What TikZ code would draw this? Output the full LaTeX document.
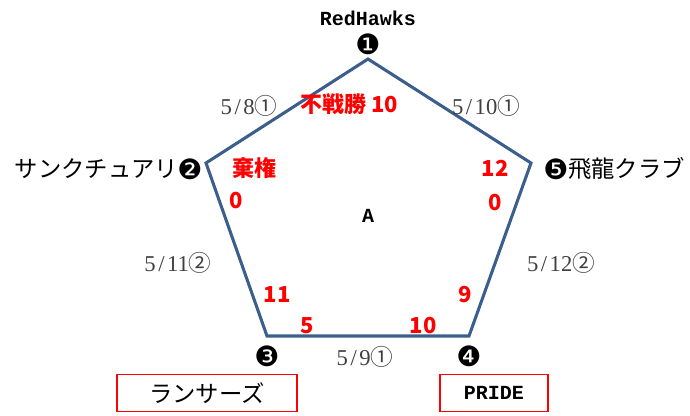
\documentclass[tikz,border=0pt]{standalone}
\usepackage{fontspec}
\setmainfont{Liberation Serif}
\newfontfamily\jpfont{Noto Sans CJK JP}
\newfontfamily\symfont{DejaVu Sans}
\newfontfamily\monofont{Liberation Mono}
\newcommand{\hw}[1]{\makebox[0.5em]{#1}}
\definecolor{edgeblue}{HTML}{3B5E8C}
\definecolor{dategray}{HTML}{404040}
\begin{document}
\begin{tikzpicture}[x=0.75pt,y=-0.75pt,
  team/.style={font=\jpfont\fontsize{17.5}{20}\selectfont, inner sep=0pt},
  mono/.style={font=\monofont\bfseries\fontsize{15}{17}\selectfont, inner sep=0pt},
  num/.style={font=\symfont\fontsize{21}{23}\selectfont, inner sep=0pt},
  score/.style={font=\jpfont\bfseries\fontsize{16.5}{18}\selectfont, text=red, inner sep=0pt},
  date/.style={font=\fontsize{17}{19}\selectfont, text=dategray, inner sep=0pt},
  namebox/.style={draw=red, line width=1.2pt, minimum height=28pt, inner sep=0pt},
  edge/.style={draw=edgeblue, line width=2.3pt, line join=miter}]
\useasboundingbox (0,0) rectangle (690,415);
\coordinate (v1) at (368,59);
\coordinate (v2) at (206,163);
\coordinate (v5) at (531,163);
\coordinate (v3) at (267,336);
\coordinate (v4) at (469,336);
\draw[edge] (v1) -- (v5) -- (v4) -- (v3) -- (v2) -- cycle;
% team labels
\node[mono] (rh) at (368,18) {RedHawks};
\node[num] (n1) at (368,44) {❶};
\node[team, anchor=east] (t2) at (178,169) {サンクチュアリ};
\node[num] (n2) at (190,169) {❷};
\node[num] (n5) at (556,169) {❺};
\node[team, anchor=west] (t5) at (568,169) {飛龍クラブ};
\node[num] (n3) at (267,356) {❸};
\node[num] (n4) at (469,356) {❹};
\node[namebox, minimum width=135pt] (b3) at (207,393) {};
\node[team] (t3) at (b3) {ランサーズ};
\node[namebox, minimum width=81pt] (b4) at (494,393) {};
\node[mono] (t4) at (b4) {PRIDE};
\node[mono] (a) at (368,216) {A};
% scores
\node[score] (s1) at (349,104) {不戦勝 10};
\node[score] (s2) at (254,168) {棄権};
\node[score] (s3) at (236,201) {0};
\node[score] (s4) at (495,168) {12};
\node[score] (s5) at (495,203) {0};
\node[score] (s6) at (277,295) {11};
\node[score] (s7) at (465,295) {9};
\node[score] (s8) at (307,326) {5};
\node[score] (s9) at (423,326) {10};
% dates
\node[date] (d1) at (249,106) {5\hw{/}8{\jpfont ①}};
\node[date] (d2) at (486,106) {5\hw{/}10{\jpfont ①}};
\node[date] (d3) at (178,263) {5\hw{/}11{\jpfont ②}};
\node[date] (d4) at (561,263) {5\hw{/}12{\jpfont ②}};
\node[date] (d5) at (365,357) {5\hw{/}9{\jpfont ①}};
\end{tikzpicture}
\end{document}
